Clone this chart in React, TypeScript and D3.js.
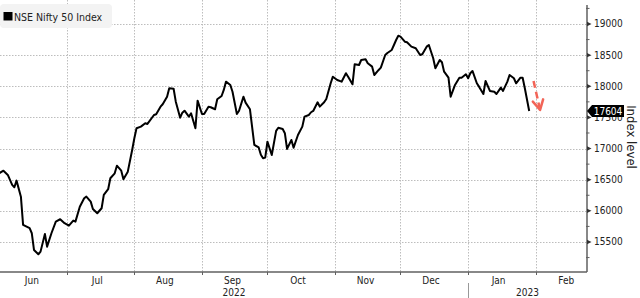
import React from "react";
import * as d3 from "d3";

const seriesName = "NSE Nifty 50 Index";
const yAxisTitle = "Index level";
const lastLabel = "17604";

const dates: string[] = [
  "2022-05-31","2022-06-02","2022-06-04","2022-06-06","2022-06-07","2022-06-08","2022-06-10","2022-06-11",
  "2022-06-14","2022-06-15","2022-06-16","2022-06-18","2022-06-19","2022-06-21","2022-06-22","2022-06-24",
  "2022-06-26","2022-06-28","2022-06-30","2022-07-02","2022-07-04","2022-07-05","2022-07-07","2022-07-09",
  "2022-07-10","2022-07-12","2022-07-13","2022-07-15","2022-07-17","2022-07-18","2022-07-20","2022-07-21",
  "2022-07-23","2022-07-24","2022-07-26","2022-07-27","2022-07-29","2022-07-31","2022-08-01","2022-08-02",
  "2022-08-04","2022-08-06","2022-08-07","2022-08-10","2022-08-11","2022-08-13","2022-08-14","2022-08-16",
  "2022-08-17","2022-08-19","2022-08-20","2022-08-22","2022-08-23","2022-08-24","2022-08-26","2022-08-27",
  "2022-08-29","2022-08-30","2022-09-01","2022-09-02","2022-09-04","2022-09-05","2022-09-07","2022-09-08",
  "2022-09-10","2022-09-11","2022-09-12","2022-09-14","2022-09-15","2022-09-17","2022-09-18","2022-09-20",
  "2022-09-21","2022-09-23","2022-09-25","2022-09-27","2022-09-28","2022-09-29","2022-09-30","2022-10-01",
  "2022-10-03","2022-10-05","2022-10-06","2022-10-08","2022-10-09","2022-10-10","2022-10-12","2022-10-13",
  "2022-10-15","2022-10-17","2022-10-18","2022-10-20","2022-10-21","2022-10-22","2022-10-24","2022-10-25",
  "2022-10-27","2022-10-28","2022-10-30","2022-10-31","2022-11-02","2022-11-04","2022-11-06","2022-11-07",
  "2022-11-09","2022-11-10","2022-11-12","2022-11-13","2022-11-15","2022-11-16","2022-11-18","2022-11-19",
  "2022-11-21","2022-11-22","2022-11-24","2022-11-25","2022-11-27","2022-11-28","2022-11-29","2022-11-30",
  "2022-12-01","2022-12-03","2022-12-04","2022-12-06","2022-12-08","2022-12-10","2022-12-11","2022-12-13",
  "2022-12-14","2022-12-16","2022-12-17","2022-12-19","2022-12-20","2022-12-21","2022-12-23","2022-12-24",
  "2022-12-26","2022-12-28","2022-12-29","2022-12-31","2023-01-01","2023-01-02","2023-01-03","2023-01-05",
  "2023-01-06","2023-01-08","2023-01-09","2023-01-11","2023-01-13","2023-01-14","2023-01-16","2023-01-17",
  "2023-01-19","2023-01-20","2023-01-22","2023-01-23","2023-01-25","2023-01-26","2023-01-27","2023-01-29",
];

const values: number[] = [
  16603,16645,16576,16416,16379,16485,16228,15774,
  15721,15640,15372,15303,15345,15629,15425,15640,
  15827,15865,15801,15762,15843,15827,16067,16202,
  16228,16148,16030,15961,16042,16255,16347,16523,
  16603,16725,16645,16507,16629,16978,17165,17326,
  17352,17406,17395,17539,17551,17673,17711,17833,
  17968,17960,17753,17496,17576,17608,17512,17567,
  17326,17769,17555,17555,17673,17663,17631,17791,
  17844,17941,18074,18021,17913,17555,17608,17833,
  17737,17631,17058,17018,16900,16844,16854,17111,
  16897,17283,17335,17315,17246,16994,17138,17014,
  17218,17352,17512,17539,17583,17604,17743,17673,
  17743,17796,18048,18154,18101,18074,18209,18154,
  18032,18353,18342,18422,18434,18369,18315,18181,
  18262,18299,18502,18535,18583,18663,18743,18812,
  18796,18716,18707,18636,18610,18502,18514,18636,
  18663,18449,18289,18422,18385,18234,18138,17833,
  18021,18138,18138,18193,18129,18209,18246,18048,
  17994,17876,18085,17925,17913,17876,17978,17925,
  18074,18181,18129,18048,18138,18138,17968,17604,
];

const yMajorTicks = [15500, 16000, 16500, 17000, 17500, 18000, 18500, 19000];
const yMinorTicks = [15250, 15750, 16250, 16750, 17250, 17750, 18250, 18750, 19250];
const monthLabels = ["Jun", "Jul", "Aug", "Sep", "Oct", "Nov", "Dec", "Jan", "Feb"];
const monthStarts = ["2022-06-01","2022-07-01","2022-08-01","2022-09-01","2022-10-01","2022-11-01","2022-12-01","2023-01-01","2023-02-01"];
const yearLabels = ["2022", "2023"];
const yearStarts = ["2022-05-31", "2023-01-01"];
const arrowFrom = { date: "2023-01-31", value: 18085 };
const arrowTo = { date: "2023-02-03", value: 17620 };

const W = 640;
const H = 298;
const FONT = "'DejaVu Sans Condensed', 'DejaVu Sans', sans-serif";

export default function App() {
  const parse = d3.timeParse("%Y-%m-%d");
  const data = dates.map((d, i) => ({ date: parse(d) as Date, value: values[i] }));

  const plotLeft = 0;
  const plotRight = 587;
  const plotTop = 5;
  const plotBottom = 272;

  const x = d3
    .scaleTime()
    .domain([new Date(2022, 4, 31, 10), new Date(2023, 1, 24, 12)])
    .range([plotLeft, plotRight]);
  const y = d3.scaleLinear().domain([15018, 19305]).range([plotBottom, plotTop]);

  const line = d3
    .line<{ date: Date; value: number }>()
    .x((d) => x(d.date))
    .y((d) => y(d.value))
    .curve(d3.curveLinear);

  const starts = monthStarts.map((s) => parse(s) as Date);
  const boundaries = starts.slice(1);
  const labelPos = starts.map((s) => x(d3.timeDay.offset(s, 14)));

  const yearStartX = yearStarts.map((s) => Math.max(plotLeft, x(parse(s) as Date)));
  const yearCenters = yearStartX.map((sx, i) => {
    const ex = i + 1 < yearStartX.length ? yearStartX[i + 1] : plotRight;
    return (sx + ex) / 2;
  });

  const last = data[data.length - 1];
  const ly = y(last.value);

  // arrow
  const ax1 = x(parse(arrowFrom.date) as Date);
  const ay1 = y(arrowFrom.value);
  const ax2 = x(parse(arrowTo.date) as Date);
  const ay2 = y(arrowTo.value);
  const ang = Math.atan2(ay2 - ay1, ax2 - ax1);
  const headLen = 11;
  const spread = 0.5;
  const h1x = ax2 - headLen * Math.cos(ang - spread);
  const h1y = ay2 - headLen * Math.sin(ang - spread);
  const h2x = ax2 - headLen * Math.cos(ang + spread);
  const h2y = ay2 - headLen * Math.sin(ang + spread);
  const shaftEndX = ax2 - 3 * Math.cos(ang);
  const shaftEndY = ay2 - 3 * Math.sin(ang);

  const gridColor = "#bdbdbd";
  const axisColor = "#606060";
  const textColor = "#222";
  const arrowColor = "#f26457";

  return (
    <svg
      width={W}
      height={H}
      style={{ position: "absolute", left: 0, top: 0, background: "#fff" }}
      fontFamily={FONT}
    >
      <rect x={0} y={0} width={W} height={H} fill="#fff" />
      {/* horizontal grid */}
      {yMajorTicks.map((t) => (
        <line
          key={"hg" + t}
          x1={plotLeft}
          x2={plotRight}
          y1={Math.round(y(t)) + 0.5}
          y2={Math.round(y(t)) + 0.5}
          stroke={gridColor}
          strokeWidth={1}
          strokeDasharray="1.5,1.5"
        />
      ))}
      {/* vertical grid */}
      {boundaries.map((b, i) => (
        <line
          key={"vg" + i}
          x1={Math.round(x(b)) + 0.5}
          x2={Math.round(x(b)) + 0.5}
          y1={0}
          y2={plotBottom}
          stroke={gridColor}
          strokeWidth={1}
          strokeDasharray="1.5,1.5"
        />
      ))}

      {/* legend */}
      <rect x={0} y={4} width={112} height={24} rx={4} fill="#f3f3f3" />
      <rect x={3.5} y={12} width={9} height={8.5} fill="#000" />
      <text x={14} y={20.5} fontSize={10.5} fill={textColor}>
        {seriesName}
      </text>

      {/* series line */}
      <path d={line(data) || ""} fill="none" stroke="#000" strokeWidth={2} strokeLinejoin="round" />

      {/* red dashed arrow */}
      <line
        x1={ax1}
        y1={ay1}
        x2={shaftEndX}
        y2={shaftEndY}
        stroke={arrowColor}
        strokeWidth={2.5}
        strokeDasharray="7,4"
      />
      <polyline
        points={`${h1x},${h1y} ${ax2},${ay2} ${h2x},${h2y}`}
        fill="none"
        stroke={arrowColor}
        strokeWidth={2.5}
        strokeLinecap="round"
        strokeLinejoin="round"
      />

      {/* x axis */}
      <line x1={plotLeft} x2={plotRight} y1={plotBottom} y2={plotBottom} stroke={axisColor} strokeWidth={1.5} />
      {boundaries.map((b, i) => (
        <line
          key={"xt" + i}
          x1={Math.round(x(b)) + 0.5}
          x2={Math.round(x(b)) + 0.5}
          y1={plotBottom}
          y2={plotBottom + 3}
          stroke={axisColor}
          strokeWidth={1}
        />
      ))}
      {monthLabels.map((m, i) => (
        <text key={"ml" + m + i} x={labelPos[i]} y={284} fontSize={10} fill={textColor} textAnchor="middle">
          {m}
        </text>
      ))}
      {yearStartX.slice(1).map((sx, i) => (
        <line
          key={"ys" + i}
          x1={Math.round(sx) + 0.5}
          x2={Math.round(sx) + 0.5}
          y1={283}
          y2={298}
          stroke="#999"
          strokeWidth={1}
        />
      ))}
      {yearLabels.map((yl, i) => (
        <text key={"yl" + yl} x={yearCenters[i]} y={296} fontSize={10} fill={textColor} textAnchor="middle">
          {yl}
        </text>
      ))}

      {/* y axis */}
      <line x1={plotRight} x2={plotRight} y1={plotTop} y2={plotBottom} stroke={axisColor} strokeWidth={1.5} />
      {yMinorTicks.map((t) => (
        <line
          key={"mn" + t}
          x1={plotRight - 1}
          x2={plotRight + 2.5}
          y1={y(t)}
          y2={y(t)}
          stroke={axisColor}
          strokeWidth={1}
        />
      ))}
      {yMajorTicks.map((t) => (
        <g key={"mj" + t}>
          <path
            d={`M${plotRight},${y(t) - 2.2} L${plotRight + 4.5},${y(t)} L${plotRight},${y(t) + 2.2} Z`}
            fill="#333"
          />
          <text x={594} y={y(t)} dy="0.35em" fontSize={10} fill={textColor}>
            {d3.format("d")(t)}
          </text>
        </g>
      ))}

      {/* last value tag */}
      <path
        d={`M${plotRight},${ly} L${plotRight + 5},${ly - 6} L${plotRight + 37},${ly - 6} L${plotRight + 37},${ly + 6} L${plotRight + 5},${ly + 6} Z`}
        fill="#000"
      />
      <text x={plotRight + 21} y={ly} dy="0.36em" fontSize={10} fill="#fff" textAnchor="middle">
        {lastLabel}
      </text>

      {/* y axis title */}
      <text
        transform={`translate(627, 137) rotate(90)`}
        fontSize={13}
        fill={textColor}
        textAnchor="middle"
      >
        {yAxisTitle}
      </text>
    </svg>
  );
}
